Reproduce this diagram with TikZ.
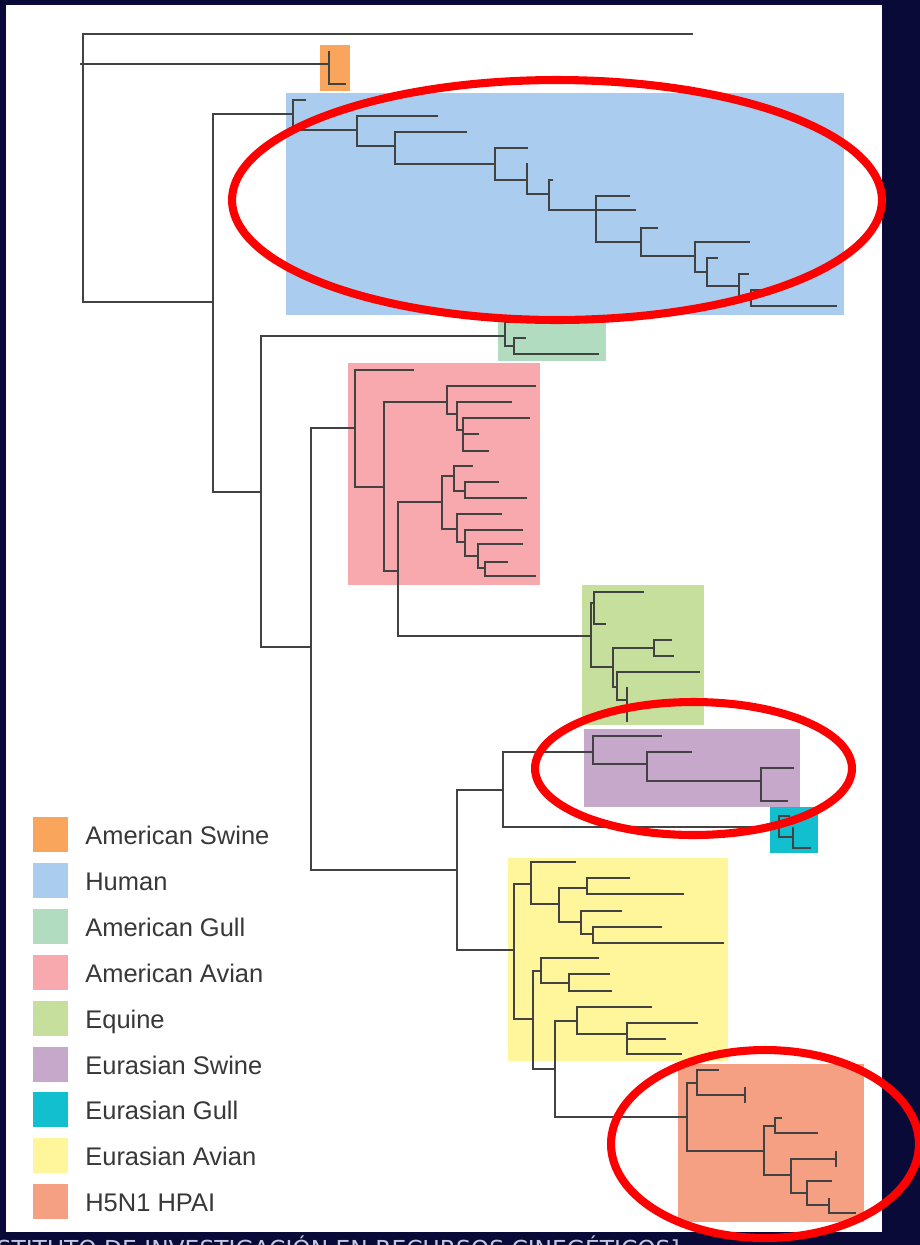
\documentclass[tikz,border=0pt]{standalone}
\usepackage{fontspec}
\setmainfont{Liberation Sans}
\newfontfamily\capfont{DejaVu Sans}
\usetikzlibrary{positioning}
\definecolor{navy}{HTML}{0A0A38}
\definecolor{twig}{HTML}{424242}
\definecolor{inkgray}{HTML}{383838}
\definecolor{ringred}{HTML}{FF0000}
\definecolor{capgray}{HTML}{C4C8DE}
\definecolor{amswine}{HTML}{F9A65C}
\definecolor{human}{HTML}{AACCEE}
\definecolor{amgull}{HTML}{B2DCC0}
\definecolor{amavian}{HTML}{F7A9AE}
\definecolor{equine}{HTML}{C6DF9C}
\definecolor{euswine}{HTML}{C6A9CA}
\definecolor{eugull}{HTML}{12BFCF}
\definecolor{euavian}{HTML}{FFF59B}
\definecolor{hpai}{HTML}{F6A083}

\begin{document}
\begin{tikzpicture}[x=0.02cm,y=-0.02cm,
    branch/.style={draw=twig,line width=1.2pt},
    ring/.style={draw=ringred,line width=4.6pt},
    keybox/.style={minimum size=0.7cm,inner sep=0pt},
    keytext/.style={anchor=base west,inner sep=0pt,text=inkgray,font=\fontsize{14.5}{17}\selectfont}]
        \useasboundingbox (0,0) rectangle (920,1245);
        \fill[navy] (0,0) rectangle (920,1245);
        \fill[white] (6,5) rectangle (882,1232);
        % clade boxes
        \fill[amswine] (320,45) rectangle (350,91);
        \fill[human] (286,93) rectangle (844,315);
        \fill[amgull] (498,315) rectangle (606,361);
        \fill[amavian] (348,363) rectangle (540,585);
        \fill[equine] (582,585) rectangle (704,725);
        \fill[euswine] (584,729) rectangle (800,807);
        \fill[eugull] (770,807) rectangle (818,853);
        \fill[euavian] (508,858) rectangle (728,1061);
        \fill[hpai] (678,1064) rectangle (864,1222);
        % backbone
        \draw[branch] (693,34) -- (83,34) -- (83,302) -- (213,302);
        \draw[branch] (80,64) -- (329,64);
        \draw[branch] (329,51) -- (329,84) -- (346,84);
        \draw[branch] (293,114) -- (213,114) -- (213,492) -- (261,492);
        \draw[branch] (505,336) -- (261,336) -- (261,647) -- (311,647);
        \draw[branch] (355,428) -- (311,428) -- (311,870) -- (457,870);
        \draw[branch] (503,790) -- (457,790) -- (457,950) -- (514,950);
        % human
        \draw[branch] (306,100) -- (293,100) -- (293,130) -- (357,130);
        \draw[branch] (438,116) -- (357,116) -- (357,146) -- (395,146);
        \draw[branch] (467,132) -- (395,132) -- (395,164) -- (495,164);
        \draw[branch] (528,148) -- (495,148) -- (495,180) -- (527,180);
        \draw[branch] (527,163) -- (527,194) -- (549,194);
        \draw[branch] (553,180) -- (549,180) -- (549,210) -- (636,210);
        \draw[branch] (630,196) -- (596,196) -- (596,242) -- (641,242);
        \draw[branch] (658,228) -- (641,228) -- (641,256) -- (695,256);
        \draw[branch] (750,242) -- (695,242) -- (695,272) -- (707,272);
        \draw[branch] (718,258) -- (707,258) -- (707,286) -- (739,286);
        \draw[branch] (749,274) -- (739,274) -- (739,298) -- (751,298);
        \draw[branch] (761,290) -- (751,290) -- (751,306) -- (837,306);
        % american gull
        \draw[branch] (512,322) -- (505,322) -- (505,346) -- (514,346);
        \draw[branch] (526,338) -- (514,338) -- (514,354) -- (599,354);
        % american avian
        \draw[branch] (414,370) -- (355,370) -- (355,487) -- (384,487);
        \draw[branch] (447,402) -- (384,402) -- (384,571) -- (398,571);
        \draw[branch] (536,386) -- (447,386) -- (447,414) -- (457,414);
        \draw[branch] (512,402) -- (457,402) -- (457,430) -- (463,430);
        \draw[branch] (530,418) -- (463,418) -- (463,451) -- (489,451);
        \draw[branch] (463,434) -- (479,434);
        \draw[branch] (442,502) -- (398,502) -- (398,636) -- (591,636);
        \draw[branch] (454,476) -- (442,476) -- (442,529) -- (457,529);
        \draw[branch] (473,466) -- (454,466) -- (454,491) -- (465,491);
        \draw[branch] (499,482) -- (465,482) -- (465,498) -- (527,498);
        \draw[branch] (502,514) -- (457,514) -- (457,542) -- (465,542);
        \draw[branch] (523,530) -- (465,530) -- (465,556) -- (478,556);
        \draw[branch] (523,544) -- (478,544) -- (478,568) -- (485,568);
        \draw[branch] (508,562) -- (485,562) -- (485,576) -- (536,576);
        % equine
        \draw[branch] (594,603) -- (591,603) -- (591,667) -- (613,667);
        \draw[branch] (644,592) -- (594,592) -- (594,624) -- (606,624);
        \draw[branch] (654,648) -- (613,648) -- (613,687) -- (617,687);
        \draw[branch] (672,640) -- (654,640) -- (654,656) -- (674,656);
        \draw[branch] (700,672) -- (617,672) -- (617,700) -- (627,700);
        \draw[branch] (627,687) -- (627,722);
        % eurasian swine and gull
        \draw[branch] (593,752) -- (503,752) -- (503,827) -- (779,827);
        \draw[branch] (662,736) -- (593,736) -- (593,764) -- (647,764);
        \draw[branch] (692,752) -- (647,752) -- (647,781) -- (761,781);
        \draw[branch] (794,768) -- (761,768) -- (761,801) -- (788,801);
        \draw[branch] (790,816) -- (779,816) -- (779,837) -- (793,837);
        \draw[branch] (793,827) -- (793,848) -- (811,848);
        % eurasian avian
        \draw[branch] (531,884) -- (514,884) -- (514,1019) -- (533,1019);
        \draw[branch] (576,862) -- (531,862) -- (531,904) -- (559,904);
        \draw[branch] (587,888) -- (559,888) -- (559,922) -- (581,922);
        \draw[branch] (630,878) -- (587,878) -- (587,894) -- (684,894);
        \draw[branch] (622,911) -- (581,911) -- (581,934) -- (593,934);
        \draw[branch] (662,927) -- (593,927) -- (593,943) -- (724,943);
        \draw[branch] (541,971) -- (533,971) -- (533,1069) -- (555,1069);
        \draw[branch] (599,958) -- (541,958) -- (541,983) -- (569,983);
        \draw[branch] (610,974) -- (569,974) -- (569,991) -- (612,991);
        \draw[branch] (577,1021) -- (555,1021) -- (555,1117) -- (687,1117);
        \draw[branch] (652,1007) -- (577,1007) -- (577,1034) -- (627,1034);
        \draw[branch] (698,1023) -- (627,1023) -- (627,1054) -- (682,1054);
        \draw[branch] (627,1039) -- (666,1039);
        % h5n1
        \draw[branch] (697,1083) -- (687,1083) -- (687,1151) -- (764,1151);
        \draw[branch] (719,1070) -- (697,1070) -- (697,1095) -- (745,1095);
        \draw[branch] (745,1087) -- (745,1103);
        \draw[branch] (775,1126) -- (764,1126) -- (764,1175) -- (791,1175);
        \draw[branch] (782,1118) -- (775,1118) -- (775,1133) -- (818,1133);
        \draw[branch] (836,1159) -- (791,1159) -- (791,1193) -- (807,1193);
        \draw[branch] (836,1151) -- (836,1167);
        \draw[branch] (832,1181) -- (807,1181) -- (807,1205) -- (829,1205);
        \draw[branch] (829,1198) -- (829,1213) -- (856,1213);
        % highlight rings
        \draw[ring] (557,200) ellipse [x radius=6.5cm,y radius=2.4cm];
        \draw[ring] (693.5,768.5) ellipse [x radius=3.17cm,y radius=1.33cm];
        \draw[ring] (765,1144) ellipse [x radius=3.08cm,y radius=1.88cm];
        % legend
        \node[keybox,fill=amswine] (kAmSwine) at (50.5,834.5) {};
        \node[keybox,fill=human] (kHuman) at (50.5,880.4) {};
        \node[keybox,fill=amgull] (kAmGull) at (50.5,926.3) {};
        \node[keybox,fill=amavian] (kAmAvian) at (50.5,972.2) {};
        \node[keybox,fill=equine] (kEquine) at (50.5,1018.1) {};
        \node[keybox,fill=euswine] (kEuSwine) at (50.5,1064.0) {};
        \node[keybox,fill=eugull] (kEuGull) at (50.5,1109.9) {};
        \node[keybox,fill=euavian] (kEuAvian) at (50.5,1155.8) {};
        \node[keybox,fill=hpai] (kHpai) at (50.5,1201.7) {};
        \node[keytext] (tAmSwine) at (85,844.5) {American Swine};
        \node[keytext] (tHuman) at (85,890.4) {Human};
        \node[keytext] (tAmGull) at (85,936.3) {American Gull};
        \node[keytext] (tAmAvian) at (85,982.2) {American Avian};
        \node[keytext] (tEquine) at (85,1028.1) {Equine};
        \node[keytext] (tEuSwine) at (85,1074.0) {Eurasian Swine};
        \node[keytext] (tEuGull) at (85,1119.9) {Eurasian Gull};
        \node[keytext] (tEuAvian) at (85,1165.8) {Eurasian Avian};
        \node[keytext] (tHpai) at (85,1211.7) {H5N1 HPAI};
        % source line, cut by the frame
        \node[anchor=base east,inner sep=0pt,text=capgray,font=\capfont\fontsize{13.3}{16}\selectfont]
          (source) at (680,1257) {[INSTITUTO DE INVESTIGACIÓN EN RECURSOS CINEGÉTICOS]};
      \end{tikzpicture}
\end{document}
